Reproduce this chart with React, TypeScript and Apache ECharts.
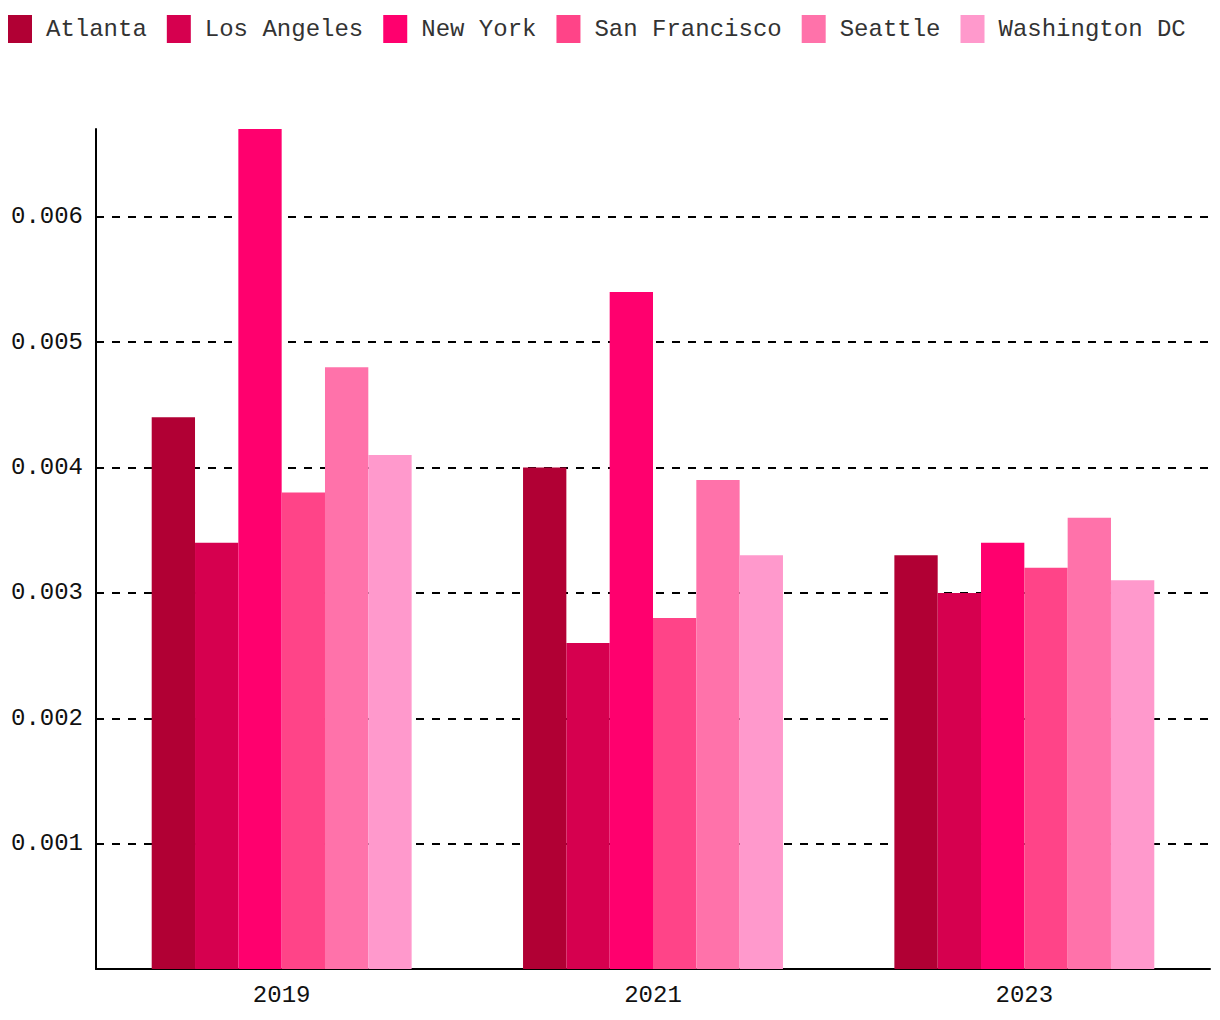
import React, { useEffect, useRef } from "react";
import * as echarts from "echarts";

const years = ["2019", "2021", "2023"];
const cities = ["Atlanta", "Los Angeles", "New York", "San Francisco", "Seattle", "Washington DC"];
const colors = ["#B10034", "#D6004F", "#FF006E", "#FF4488", "#FF72AA", "#FF99CC"];
const atlanta = [0.0044, 0.004, 0.0033];
const losAngeles = [0.0034, 0.0026, 0.003];
const newYork = [0.0067, 0.0054, 0.0034];
const sanFrancisco = [0.0038, 0.0028, 0.0032];
const seattle = [0.0048, 0.0039, 0.0036];
const washingtonDC = [0.0041, 0.0033, 0.0031];
const seriesValues = [atlanta, losAngeles, newYork, sanFrancisco, seattle, washingtonDC];

const FONT = "'Liberation Mono', 'DejaVu Sans Mono', monospace";

export default function App() {
  const ref = useRef<HTMLDivElement>(null);
  useEffect(() => {
    if (!ref.current) return;
    const chart = echarts.init(ref.current, undefined, { renderer: "svg" });
    chart.setOption({
      animation: false,
      color: colors,
      legend: {
        left: 3,
        top: 10,
        itemWidth: 24,
        itemHeight: 28,
        itemGap: 20,
        icon: "rect",
        textStyle: { fontFamily: FONT, fontSize: 24, color: "#333", padding: [3, 0, 0, 9] },
        data: cities,
      },
      grid: { left: 96, right: 10, top: 129, bottom: 51, containLabel: false },
      xAxis: {
        type: "category",
        data: years,
        axisTick: { show: false },
        axisLine: { lineStyle: { color: "#000", width: 2 } },
        axisLabel: { fontFamily: FONT, fontSize: 24, color: "#111", margin: 14 },
      },
      yAxis: {
        type: "value",
        min: 0,
        max: 0.0067,
        interval: 0.001,
        axisLine: { show: true, lineStyle: { color: "#000", width: 2 } },
        axisTick: { show: false },
        axisLabel: {
          fontFamily: FONT,
          fontSize: 24,
          color: "#111",
          margin: 13,
          showMinLabel: false,
          showMaxLabel: false,
          formatter: (v: number) => v.toFixed(3),
        },
        splitLine: {
          lineStyle: {
            color: ["#000", "#000", "#000", "#000", "#000", "#000", "#000", "rgba(0,0,0,0)"],
            width: 2,
            type: [8, 8],
          },
        },
      },
      series: cities.map((c, i) => ({
        name: c,
        type: "bar",
        data: seriesValues[i],
        barGap: "0%",
        barCategoryGap: "30%",
      })),
    });
    return () => chart.dispose();
  }, []);
  return <div ref={ref} style={{ position: "fixed", left: 0, top: 0, width: 1220, height: 1020, background: "#fff" }} />;
}
